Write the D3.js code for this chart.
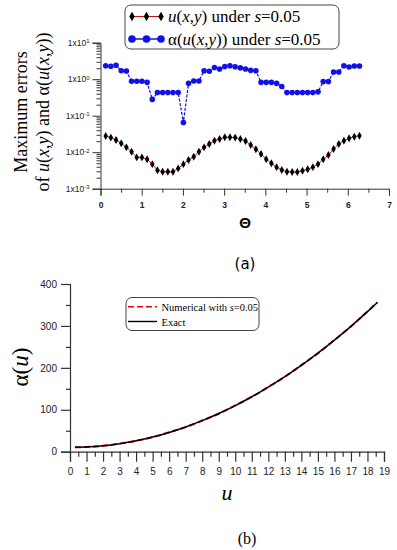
<!DOCTYPE html>
<html><head><meta charset="utf-8">
<script src="https://cdn.jsdelivr.net/npm/d3@7"></script>
<style>html,body{margin:0;padding:0;background:#fff;}svg{display:block;}</style>
</head><body>
<svg id="c" width="397" height="550"></svg>
<script>
// ---- data: panel (a) ----
const theta = [0.126,0.251,0.377,0.503,0.628,0.754,0.880,1.005,1.131,1.257,
  1.382,1.508,1.634,1.759,1.885,2.011,2.136,2.262,2.388,2.513,
  2.639,2.765,2.890,3.016,3.142,3.267,3.393,3.519,3.644,3.770,
  3.896,4.021,4.147,4.273,4.398,4.524,4.650,4.775,4.901,5.027,
  5.152,5.278,5.404,5.529,5.655,5.781,5.906,6.032,6.158,6.283];
const errU = [0.0278,0.0251,0.0216,0.0175,0.0136,0.0103,0.0072,0.0072,0.0064,0.0047,
  0.0032,0.0029,0.0029,0.0029,0.0036,0.0047,0.0061,0.0075,0.0103,0.0136,
  0.0168,0.0206,0.0230,0.0256,0.0256,0.0251,0.0230,0.0203,0.0157,0.0120,
  0.0089,0.0064,0.0050,0.0039,0.00325,0.0029,0.00287,0.00287,0.0031,0.0034,
  0.0039,0.0047,0.0064,0.0084,0.0122,0.0168,0.0206,0.0240,0.0266,0.0283];
const errAlpha = [2.34,2.26,2.40,1.71,1.68,0.875,0.875,0.875,0.82,0.28,
  0.43,0.43,0.43,0.43,0.43,0.065,0.77,0.89,0.89,1.70,
  1.65,2.10,1.90,2.22,2.34,2.20,2.04,1.90,1.75,1.70,
  0.82,0.82,0.82,0.77,0.63,0.43,0.43,0.43,0.43,0.43,
  0.43,0.45,0.86,0.86,1.58,1.58,2.34,2.16,2.30,2.30];
const logTicks = [1e-3,1e-2,1e-1,1,10];
const logTickExp = ["-3","-2","-1","0","1"];
const thetaTicks = [0,1,2,3,4,5,6,7];

// ---- data: panel (b) ----
const uVals = [0.3,1,2,3,4,5,6,7,8,9,10,11,12,13,14,15,16,17,18,18.6];
const alphaExact = [10.5,11,14,19,26,35,46,59,74,91,110,131,154,179,206,235,266,299,334,356];
const alphaNum = [10.6,11.2,14.1,19.2,25.8,34.7,46.3,58.6,74.4,90.6,110.4,130.6,154.5,178.6,206.5,234.6,266.4,298.7,334.5,356.3];
const alphaTicks = [0,100,200,300,400];
const uTicks = d3.range(0,20);

const svg = d3.select("#c");
const SERIF = "'Liberation Serif','Times New Roman',serif";
const SANS = "'Liberation Sans',Arial,sans-serif";
const AX = "#333";

// ================= Panel (a) =================
const xA = d3.scaleLinear().domain([0,7]).range([100.5,389]);
const yA = d3.scaleLog().domain([1e-3,1e1]).range([188.7,42.7]);

const gA = svg.append("g");
const minorLog = [];
[1e-3,1e-2,1e-1,1].forEach(d=>{for(let k=2;k<=9;k++) minorLog.push(d*k);});
const yAxMinor = gA.append("g").attr("transform",`translate(${xA(0)},0)`)
  .call(d3.axisLeft(yA).tickValues(minorLog).tickSize(4).tickFormat(""));
const yAx = gA.append("g").attr("transform",`translate(${xA(0)},0)`)
  .call(d3.axisLeft(yA).tickValues(logTicks).tickSize(8).tickPadding(3).tickFormat(""));
yAx.selectAll(".tick text").each(function(d,i){
  const t = d3.select(this);
  t.text("1x10").attr("font-size","8.5px").attr("font-family",SANS).attr("fill","#222");
  t.append("tspan").attr("dy","-0.45em").attr("font-size","6px").text(logTickExp[i]);
});
const xAxMinor = gA.append("g").attr("transform",`translate(0,${yA(1e-3)})`)
  .call(d3.axisBottom(xA).tickValues(d3.range(0.5,7,1)).tickSize(4).tickFormat(""));
const xAx = gA.append("g").attr("transform",`translate(0,${yA(1e-3)})`)
  .call(d3.axisBottom(xA).tickValues(thetaTicks).tickSize(7).tickPadding(6).tickFormat(d3.format("d")));
xAx.selectAll("text").attr("font-size","8.5px").attr("font-family",SANS).attr("font-weight","bold").attr("fill","#222");
[yAxMinor,yAx,xAxMinor,xAx].forEach(a=>{a.selectAll("path,line").attr("stroke",AX).attr("stroke-width",1);});
yAxMinor.select(".domain").remove(); xAxMinor.select(".domain").remove();

const dataA = theta.map((t,i)=>({t, u:errU[i], a:errAlpha[i]}));
gA.append("path").datum(dataA)
  .attr("d", d3.line().x(d=>xA(d.t)).y(d=>yA(d.a)))
  .attr("fill","none").attr("stroke","#1010e8").attr("stroke-width",1.2).attr("stroke-dasharray","3,1.5");
gA.selectAll("circle.b").data(dataA).join("circle").attr("class","b")
  .attr("cx",d=>xA(d.t)).attr("cy",d=>yA(d.a)).attr("r",2.8).attr("fill","#1010e8");
gA.append("path").datum(dataA)
  .attr("d", d3.line().x(d=>xA(d.t)).y(d=>yA(d.u)))
  .attr("fill","none").attr("stroke","#d01010").attr("stroke-width",1);
const diamond = d3.symbol().type(d3.symbolDiamond).size(18);
gA.selectAll("path.d").data(dataA).join("path").attr("class","d")
  .attr("d",diamond).attr("transform",d=>`translate(${xA(d.t)},${yA(d.u)})`).attr("fill","#000");

// axis titles
gA.append("text").attr("transform","translate(27,112) rotate(-90)")
  .attr("text-anchor","middle").attr("font-family",SERIF).attr("font-size","18px").text("Maximum errors");
const t2 = gA.append("text").attr("transform","translate(49,112) rotate(-90)")
  .attr("text-anchor","middle").attr("font-family",SERIF).attr("font-size","18px");
[["of ",0],["u",1],["(",0],["x",1],[",",0],["y",1],[") and α(",0],["u",1],["(",0],["x",1],[",",0],["y",1],["))",0]]
  .forEach(p=>t2.append("tspan").attr("font-style",p[1]?"italic":"normal").text(p[0]));

gA.append("text").attr("x",245).attr("y",228).attr("text-anchor","middle")
  .attr("font-family",SANS).attr("font-weight","bold").attr("font-size","15px").text("Θ");
gA.append("text").attr("x",245).attr("y",269).attr("text-anchor","middle")
  .attr("font-family","'DejaVu Sans',sans-serif").attr("font-size","15px").text("(a)");

// legend (a)
const lg = gA.append("g");
lg.append("rect").attr("x",125).attr("y",5).attr("width",214).attr("height",44).attr("rx",6)
  .attr("fill","#fff").attr("stroke","#444").attr("stroke-width",1);
lg.append("line").attr("x1",131).attr("x2",161).attr("y1",16.5).attr("y2",16.5).attr("stroke","#d01010").attr("stroke-width",1);
[132,146.5,161].forEach(x=>lg.append("path").attr("d",d3.symbol().type(d3.symbolDiamond).size(26)).attr("transform",`translate(${x},16.5)`).attr("fill","#000"));
lg.append("line").attr("x1",131).attr("x2",161).attr("y1",39).attr("y2",39).attr("stroke","#1010e8").attr("stroke-width",1.5);
[132,146.5,161].forEach(x=>lg.append("circle").attr("cx",x).attr("cy",39).attr("r",3.8).attr("fill","#1010e8"));
function legText(g,x,y,parts,size){
  const t = g.append("text").attr("x",x).attr("y",y).attr("font-family",SERIF).attr("font-size",size);
  parts.forEach(p=>t.append("tspan").attr("font-style",p[1]?"italic":"normal").text(p[0]));
  return t;
}
legText(lg,168,22,[["u",1],["(",0],["x",1],[",",0],["y",1],[") under ",0],["s",1],["=0.05",0]],"17px");
legText(lg,168,45,[["α(",0],["u",1],["(",0],["x",1],[",",0],["y",1],[")) under ",0],["s",1],["=0.05",0]],"17px");

// ================= Panel (b) =================
const xB = d3.scaleLinear().domain([0,19]).range([70,384]);
const yB = d3.scaleLinear().domain([0,400]).range([451.7,284]);
const gB = svg.append("g");
const yBm = gB.append("g").attr("transform",`translate(${xB(0)},0)`)
  .call(d3.axisLeft(yB).tickValues(d3.range(50,400,100)).tickSize(4).tickFormat(""));
const yBa = gB.append("g").attr("transform",`translate(${xB(0)},0)`)
  .call(d3.axisLeft(yB).tickValues(alphaTicks).tickSize(9).tickPadding(4).tickFormat(d3.format("d")));
const xBm = gB.append("g").attr("transform",`translate(0,${yB(0)})`)
  .call(d3.axisBottom(xB).tickValues(d3.range(0.5,19,1)).tickSize(5).tickFormat(""));
const xBa = gB.append("g").attr("transform",`translate(0,${yB(0)})`)
  .call(d3.axisBottom(xB).tickValues(uTicks).tickSize(10).tickPadding(6).tickFormat(d3.format("d")));
[yBm,yBa,xBm,xBa].forEach(a=>{a.selectAll("path,line").attr("stroke",AX).attr("stroke-width",1.2);});
yBm.select(".domain").remove(); xBm.select(".domain").remove();
[yBa,xBa].forEach(a=>a.selectAll("text").attr("font-size","10px").attr("font-family",SANS).attr("fill","#222"));

const dataB = uVals.map((u,i)=>({u, e:alphaExact[i], n:alphaNum[i]}));
gB.append("path").datum(dataB)
  .attr("d", d3.line().curve(d3.curveMonotoneX).x(d=>xB(d.u)).y(d=>yB(d.n)))
  .attr("fill","none").attr("stroke","#e00000").attr("stroke-width",2).attr("stroke-dasharray","6,3");
gB.append("path").datum(dataB)
  .attr("d", d3.line().curve(d3.curveMonotoneX).x(d=>xB(d.u)).y(d=>yB(d.e)))
  .attr("fill","none").attr("stroke","#000").attr("stroke-width",1.5);

const ta = gB.append("text").attr("transform","translate(28,367) rotate(-90)")
  .attr("text-anchor","middle").attr("font-family",SERIF).attr("font-size","23px");
ta.append("tspan").text("α(");
ta.append("tspan").attr("font-style","italic").text("u");
ta.append("tspan").text(")");
gB.append("text").attr("x",227).attr("y",500).attr("text-anchor","middle")
  .attr("font-family",SERIF).attr("font-style","italic").attr("font-size","22px").text("u");
gB.append("text").attr("x",247).attr("y",544).attr("text-anchor","middle")
  .attr("font-family",SERIF).attr("font-size","16px").text("(b)");

const lgB = gB.append("g");
lgB.append("rect").attr("x",126).attr("y",297.5).attr("width",133).attr("height",33).attr("rx",6)
  .attr("fill","#fff").attr("stroke","#444").attr("stroke-width",1);
lgB.append("line").attr("x1",128).attr("x2",157).attr("y1",306.7).attr("y2",306.7)
  .attr("stroke","#e00000").attr("stroke-width",1.5).attr("stroke-dasharray","6,3");
lgB.append("line").attr("x1",128).attr("x2",157).attr("y1",321.5).attr("y2",321.5)
  .attr("stroke","#000").attr("stroke-width",1.4);
legText(lgB,161.5,310.5,[["Numerical with ",0],["s",1],["=0.05",0]],"10.5px");
legText(lgB,161.5,325.5,[["Exact",0]],"10.5px");
</script>
</body></html>
